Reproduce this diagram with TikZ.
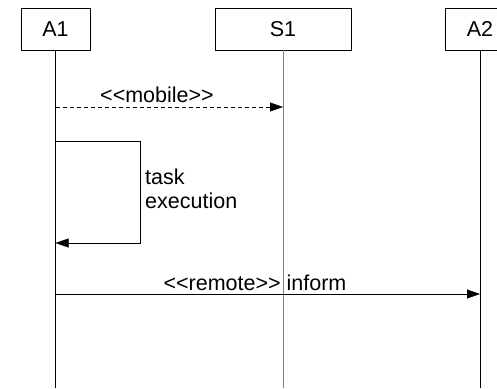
\documentclass[tikz,border=0pt]{standalone}
\usepackage{fontspec}
\setmainfont{Liberation Sans}[Ligatures=TeXOff]
\usetikzlibrary{arrows.meta}
\begin{document}
\begin{tikzpicture}[x=1pt,y=-1pt,every node/.style={font=\fontsize{21.5}{24}\selectfont},
  lifebox/.style={draw,minimum height=42pt,inner sep=0pt},
  msg/.style={-{Triangle[length=13pt,width=9pt]}}]
\useasboundingbox (0,0) rectangle (497,388);
% objects and their lifelines
\node[lifebox,minimum width=69pt] (A1) at (55.5,29) {A1};
\node[lifebox,minimum width=136pt] (S1) at (283,29) {S1};
\node[lifebox,minimum width=69pt] (A2) at (480,29) {A2};
\foreach \n/\c in {A1/black,S1/black!50,A2/black} {
  \coordinate (\n-end) at (\n.south |- 0,388);
  \draw[\c,line width=\ifx\n S12pt\else1pt\fi] (\n.south) -- (\n-end);
}
% message points
\coordinate (mobA) at (A1.south |- 0,107);
\coordinate (mobS) at (S1.south |- 0,107);
\coordinate (taskA) at (A1.south |- 0,141);
\coordinate (taskB) at (A1.south |- 0,243);
\coordinate (taskC) at (140,141);
\coordinate (taskD) at (140,243);
\coordinate (remA) at (A1.south |- 0,294);
\coordinate (remB) at (A2.south |- 0,294);
\draw[msg,dash pattern=on 4pt off 3pt] (mobA) -- (mobS);
\draw[msg] (taskA) -- (taskC) -- (taskD) -- (taskB);
\draw[msg] (remA) -- (remB);
\node (mobile) at (157,95) {<<mobile>>};
\node[anchor=west,align=left,inner sep=0pt] (exec) at (145,189) {task\\execution};
\node (remote) at (255,283) {<<remote>> inform};
\end{tikzpicture}
\end{document}
